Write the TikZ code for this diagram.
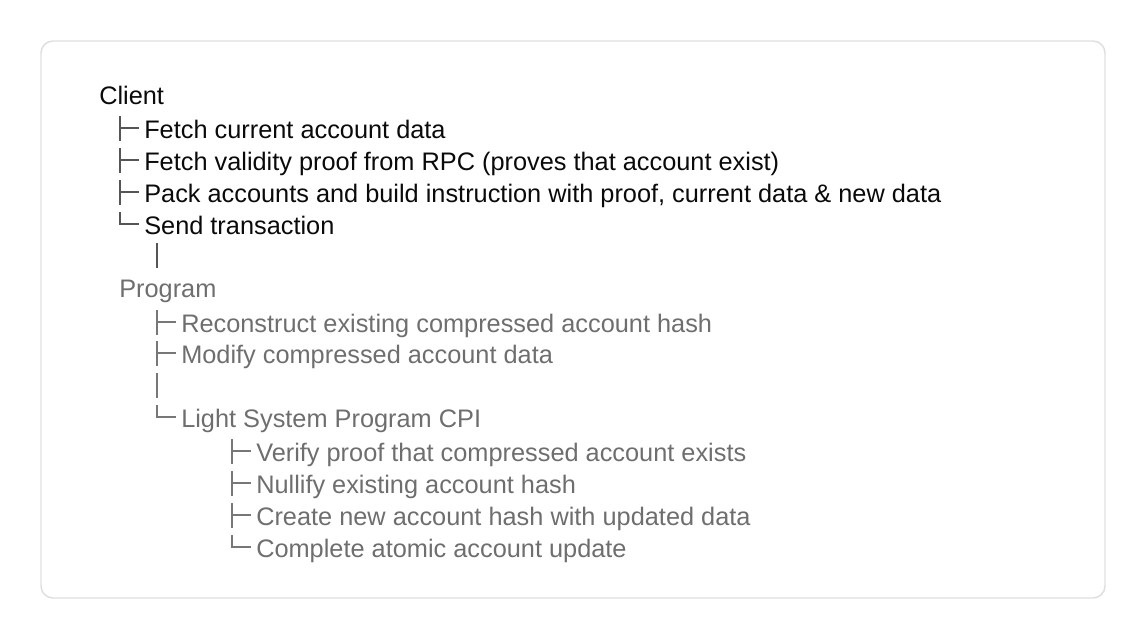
\documentclass[tikz,border=0pt]{standalone}
\usepackage{fontspec}
\setmainfont{Liberation Sans}
\usepackage{xcolor}
\usepackage{tikz}
\usetikzlibrary{calc}

\definecolor{clienttext}{HTML}{0A0A0A}
\definecolor{programtext}{HTML}{6E6E6E}
\definecolor{clientbranch}{HTML}{555555}
\definecolor{programbranch}{HTML}{777777}
\definecolor{framegray}{HTML}{DEDEDE}

\tikzset{
  item/.style={anchor=base west, inner sep=0pt, font=\fontsize{19}{23}\selectfont},
  clientitem/.style={item, text=clienttext},
  progitem/.style={item, text=programtext},
  branch/.style={line width=0.85pt, line cap=butt},
}

\begin{document}
\begin{tikzpicture}[x=0.75pt, y=-0.75pt]
    \useasboundingbox (0,0) rectangle (1146,639);
    % 1. Khung bo tròn
    \draw[framegray, line width=1.1pt, rounded corners=9pt] (41,41) rectangle (1105,598);

    % 2. Phần Client
    \node[clientitem] (client) at (99,104) {Client};
    \node[clientitem] (fetchdata) at (144,138) {Fetch current account data};
    \node[clientitem] (fetchproof) at (144,170) {Fetch validity proof from RPC (proves that account exist)};
    \node[clientitem] (pack) at (144,202) {Pack accounts and build instruction with proof, current data \& new data};
    \node[clientitem] (send) at (144,234) {Send transaction};

    % Nhánh cây của Client
    \foreach \n in {fetchdata, fetchproof, pack} {
        \draw[branch, clientbranch] ([shift={(-24,-22)}]\n.base west) -- ([shift={(-24,3)}]\n.base west);
        \draw[branch, clientbranch] ([shift={(-24,-10)}]\n.base west) -- ([shift={(-5,-10)}]\n.base west);
    }
    \draw[branch, clientbranch] ([shift={(-24,-22)}]send.base west) |- ([shift={(-5,-10)}]send.base west);

    % 3. Phần Program
    \node[progitem] (program) at (119,297) {Program};
    \node[progitem] (reconstruct) at (181,332) {Reconstruct existing compressed account hash};
    \node[progitem] (modify) at (181,363) {Modify compressed account data};
    \node[progitem] (lightcpi) at (181,427) {Light System Program CPI};

    % Nối Send transaction xuống Program
    \draw[branch, clientbranch] ([shift={(-24,-89)}]reconstruct.base west) -- ([shift={(-24,-64)}]reconstruct.base west);

    % Nhánh cây của Program
    \foreach \n in {reconstruct, modify} {
        \draw[branch, programbranch] ([shift={(-24,-22)}]\n.base west) -- ([shift={(-24,3)}]\n.base west);
        \draw[branch, programbranch] ([shift={(-24,-10)}]\n.base west) -- ([shift={(-5,-10)}]\n.base west);
    }
    \draw[branch, programbranch] ([shift={(-24,-54)}]lightcpi.base west) -- ([shift={(-24,-29)}]lightcpi.base west);
    \draw[branch, programbranch] ([shift={(-24,-22)}]lightcpi.base west) |- ([shift={(-5,-10)}]lightcpi.base west);

    % 4. Các bước của Light System Program CPI
    \node[progitem] (verify) at (256,461) {Verify proof that compressed account exists};
    \node[progitem] (nullify) at (256,493) {Nullify existing account hash};
    \node[progitem] (create) at (256,525) {Create new account hash with updated data};
    \node[progitem] (complete) at (256,557) {Complete atomic account update};

    \foreach \n in {verify, nullify, create} {
        \draw[branch, programbranch] ([shift={(-24,-22)}]\n.base west) -- ([shift={(-24,3)}]\n.base west);
        \draw[branch, programbranch] ([shift={(-24,-10)}]\n.base west) -- ([shift={(-5,-10)}]\n.base west);
    }
    \draw[branch, programbranch] ([shift={(-24,-22)}]complete.base west) |- ([shift={(-5,-10)}]complete.base west);

\end{tikzpicture}
\end{document}
